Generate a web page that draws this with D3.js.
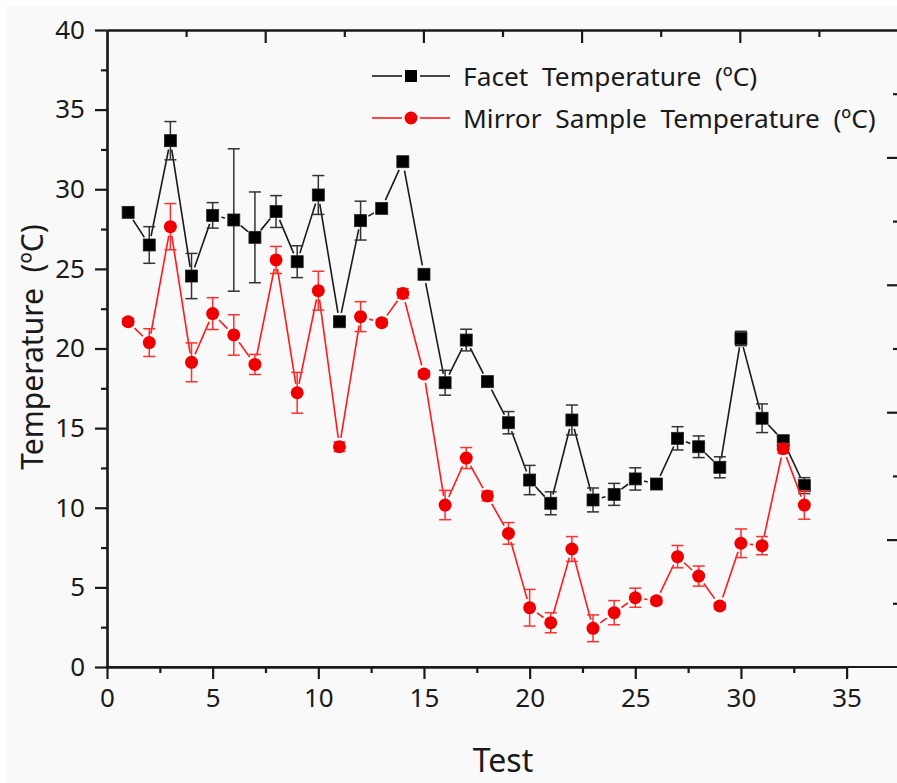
<!DOCTYPE html>
<html>
<head>
<meta charset="utf-8">
<script src="https://cdn.jsdelivr.net/npm/d3@7"></script>
<style>
  html, body { margin: 0; padding: 0; background: #ffffff; }
  svg { display: block; }
  text { font-family: "Noto Sans", "Open Sans", sans-serif; fill: #1a1a1a; }
</style>
</head>
<body>
<svg id="chart" width="897" height="783"></svg>
<script>
// ---------------- data ----------------
const tests = [1,2,3,4,5,6,7,8,9,10,11,12,13,14,15,16,17,18,19,20,21,22,23,24,25,26,27,28,29,30,31,32,33];
const facetTemp = [28.55,26.5,33.05,24.55,28.36,28.07,26.98,28.6,25.45,29.64,21.68,28.03,28.8,31.73,24.66,17.85,20.53,17.92,15.34,11.74,10.28,15.51,10.49,10.84,11.81,11.49,14.36,13.83,12.54,20.63,15.62,14.21,11.39];
const facetErr  = [0.2,1.15,1.2,1.42,0.8,4.47,2.85,1.0,1.0,1.22,0.2,1.22,0.2,0.2,0.2,0.78,0.68,0.2,0.7,0.92,0.72,0.94,0.75,0.69,0.7,0.2,0.73,0.68,0.66,0.45,0.9,0.3,0.5];
const mirrorTemp = [21.68,20.37,27.65,19.13,22.19,20.85,19.0,25.56,17.22,23.63,13.83,22.0,21.62,23.46,18.4,10.17,13.12,10.74,8.39,3.72,2.78,7.41,2.43,3.41,4.35,4.16,6.93,5.71,3.83,7.77,7.62,13.71,10.17];
const mirrorErr  = [0.2,0.87,1.45,1.22,1.0,1.27,0.63,0.85,1.28,1.22,0.3,0.94,0.2,0.3,0.2,0.92,0.66,0.3,0.68,1.15,0.63,0.78,0.84,0.76,0.6,0.2,0.7,0.63,0.2,0.9,0.57,0.3,0.89];
const xTicks = [0,5,10,15,20,25,30,35];
const yTicks = [0,5,10,15,20,25,30,35,40];
const seriesNames = ["Facet  Temperature  (ºC)", "Mirror  Sample  Temperature  (ºC)"];
const xTitle = "Test";
const yTitle = "Temperature  (ºC)";

// ---------------- layout ----------------
const svg = d3.select("#chart");
const pLeft = 107, pRight = 898, pTop = 30, pBottom = 667;

svg.append("rect").attr("x", 7).attr("y", 6).attr("width", 897 - 7).attr("height", 783 - 6).attr("fill", "#f9f9f9");

const x = d3.scaleLinear().domain([0, 35]).range([pLeft, 846.6]);
const y = d3.scaleLinear().domain([0, 40]).range([pBottom, pTop]);
const xTop = d3.scaleLinear().domain([0, 10]).range([pLeft, pRight]);
const yRight = d3.scaleLinear().domain([0, 10]).range([pBottom, pTop]);

function styleAxis(g) {
  g.selectAll("path.domain").attr("stroke", "#1a1a1a").attr("stroke-width", 2.2);
  g.selectAll(".tick line").attr("stroke", "#1a1a1a").attr("stroke-width", 2.2);
  g.selectAll(".tick text").style("font-size", "26px").attr("fill", "#1a1a1a")
    .style("font-family", "'Noto Sans', 'Open Sans', sans-serif");
}

const minorY = d3.range(0, 40.01, 2.5).filter(v => v % 5 !== 0);
const minorX = d3.range(0, 35.01, 2.5).filter(v => v % 5 !== 0);

// left axis
svg.append("g").attr("transform", `translate(${pLeft},0)`)
  .call(d3.axisLeft(y).tickValues(minorY).tickSize(6).tickSizeOuter(0).tickFormat(""))
  .call(styleAxis);
svg.append("g").attr("transform", `translate(${pLeft},0)`)
  .call(d3.axisLeft(y).tickValues(yTicks).tickSize(12).tickSizeOuter(0).tickPadding(10).tickFormat(d3.format("d")))
  .call(styleAxis);

// bottom axis
svg.append("g").attr("transform", `translate(0,${pBottom})`)
  .call(d3.axisBottom(x).tickValues(minorX).tickSize(6).tickSizeOuter(0).tickFormat(""))
  .call(styleAxis);
svg.append("g").attr("transform", `translate(0,${pBottom})`)
  .call(d3.axisBottom(x).tickValues(xTicks).tickSize(12).tickSizeOuter(0).tickPadding(10).tickFormat(d3.format("d")))
  .call(styleAxis);
svg.append("line").attr("x1", pLeft).attr("x2", pRight).attr("y1", pBottom).attr("y2", pBottom)
  .attr("stroke", "#1a1a1a").attr("stroke-width", 2.2);

// top axis (inward ticks)
svg.append("g").attr("transform", `translate(0,${pTop})`)
  .call(d3.axisBottom(xTop).tickValues([1,3,5,7,9]).tickSize(7).tickSizeOuter(0).tickFormat(""))
  .call(styleAxis);
svg.append("g").attr("transform", `translate(0,${pTop})`)
  .call(d3.axisBottom(xTop).tickValues([2,4,6,8]).tickSize(13).tickSizeOuter(0).tickFormat(""))
  .call(styleAxis);

// right axis (inward ticks)
svg.append("g").attr("transform", `translate(${pRight},0)`)
  .call(d3.axisLeft(yRight).tickValues([1,3,5,7,9]).tickSize(5).tickSizeOuter(0).tickFormat(""))
  .call(styleAxis);
svg.append("g").attr("transform", `translate(${pRight},0)`)
  .call(d3.axisLeft(yRight).tickValues([2,4,6,8]).tickSize(11).tickSizeOuter(0).tickFormat(""))
  .call(styleAxis);

// titles
svg.append("text").attr("x", 503).attr("y", 772).attr("text-anchor", "middle")
  .style("font-size", "32px").text(xTitle);
svg.append("text").attr("transform", "translate(43,347) rotate(-90)").attr("text-anchor", "middle")
  .style("font-size", "30px").style("white-space", "pre").text(yTitle);

// ---------------- series ----------------
const series = [
  { vals: facetTemp, err: facetErr, line: "#1a1a1a", errColor: "#333333", fill: "#000000", shape: "square" },
  { vals: mirrorTemp, err: mirrorErr, line: "#ff1a1a", errColor: "#ff3030", fill: "#ee0000", shape: "circle" }
];

const gapR = 9;
series.forEach(s => {
  const g = svg.append("g");
  const pts = tests.map((t, i) => ({ px: x(t), py: y(s.vals[i]), v: s.vals[i], e: s.err[i], t }));
  const segs = d3.pairs(pts).map(([a, b]) => {
    const dx = b.px - a.px, dy = b.py - a.py, L = Math.hypot(dx, dy);
    const ux = dx / L, uy = dy / L;
    return { x1: a.px + ux * gapR, y1: a.py + uy * gapR, x2: b.px - ux * gapR, y2: b.py - uy * gapR, ok: L > 2 * gapR };
  }).filter(d => d.ok);
  g.selectAll("line.seg").data(segs).join("line").attr("class", "seg")
    .attr("x1", d => d.x1).attr("y1", d => d.y1).attr("x2", d => d.x2).attr("y2", d => d.y2)
    .attr("stroke", s.line).attr("stroke-width", 1.6);
  const eb = g.selectAll("g.eb").data(pts).join("g").attr("class", "eb")
    .attr("stroke", s.errColor).attr("stroke-width", 1.5);
  eb.append("line").attr("x1", d => d.px).attr("x2", d => d.px)
    .attr("y1", d => y(d.v + d.e)).attr("y2", d => y(d.v - d.e));
  eb.append("line").attr("x1", d => d.px - 6).attr("x2", d => d.px + 6)
    .attr("y1", d => y(d.v + d.e)).attr("y2", d => y(d.v + d.e));
  eb.append("line").attr("x1", d => d.px - 6).attr("x2", d => d.px + 6)
    .attr("y1", d => y(d.v - d.e)).attr("y2", d => y(d.v - d.e));
  if (s.shape === "square") {
    g.selectAll("rect.mk").data(pts).join("rect").attr("class", "mk")
      .attr("x", d => d.px - 6).attr("y", d => d.py - 6).attr("width", 12).attr("height", 12)
      .attr("fill", s.fill).attr("stroke", "#222").attr("stroke-width", 0.8);
  } else {
    g.selectAll("circle.mk").data(pts).join("circle").attr("class", "mk")
      .attr("cx", d => d.px).attr("cy", d => d.py).attr("r", 6.5)
      .attr("fill", s.fill);
  }
});

// ---------------- legend ----------------
const legY = [76, 118];
series.forEach((s, i) => {
  const g = svg.append("g");
  g.append("line").attr("x1", 372).attr("x2", 402).attr("y1", legY[i]).attr("y2", legY[i]).attr("stroke", s.line).attr("stroke-width", 1.6);
  g.append("line").attr("x1", 420).attr("x2", 450).attr("y1", legY[i]).attr("y2", legY[i]).attr("stroke", s.line).attr("stroke-width", 1.6);
  if (s.shape === "square") {
    g.append("rect").attr("x", 405).attr("y", legY[i] - 6).attr("width", 12).attr("height", 12).attr("fill", s.fill);
  } else {
    g.append("circle").attr("cx", 411).attr("cy", legY[i]).attr("r", 6.5).attr("fill", s.fill);
  }
  g.append("text").attr("x", 463).attr("y", legY[i] + 10).style("font-size", "26.3px").style("white-space", "pre").text(seriesNames[i]);
});
</script>
</body>
</html>
